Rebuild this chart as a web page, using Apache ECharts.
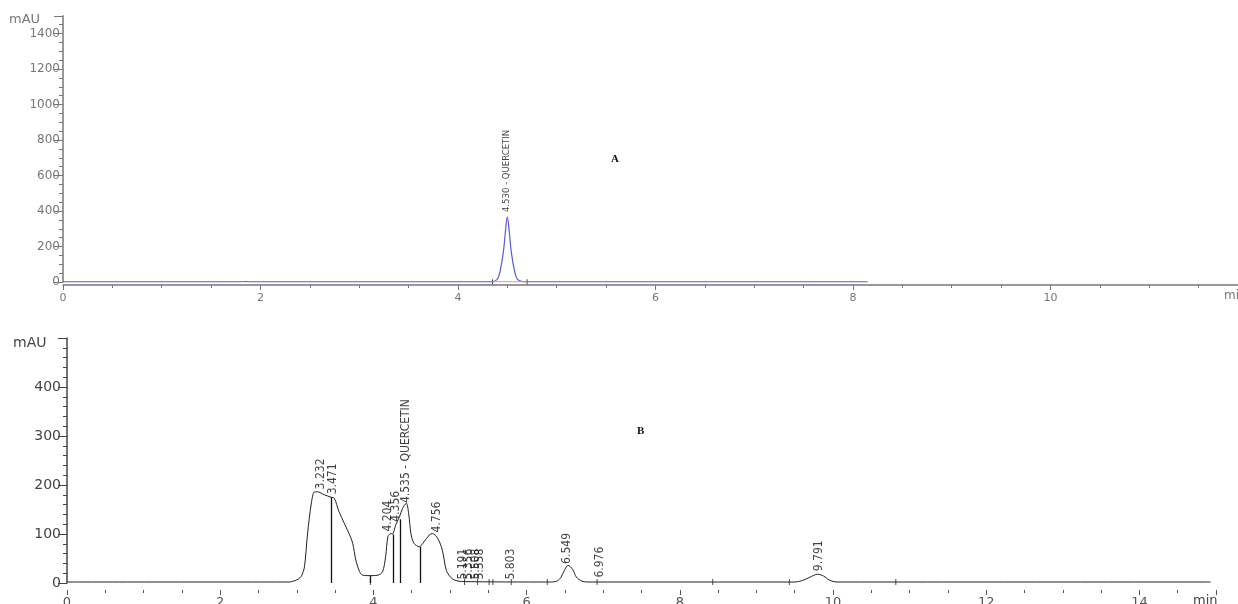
<!DOCTYPE html>
<html>
<head>
<meta charset="utf-8">
<script src="https://cdn.jsdelivr.net/npm/echarts@6/dist/echarts.min.js"></script>
<style>
html,body{margin:0;padding:0;background:#fff;}
#c{width:1238px;height:604px;}
</style>
</head>
<body>
<div id="c"></div>
<script>
// ---------- Data ----------
// Chromatogram A (standard)  [time (min), mAU]
const traceA = [[0,1],[1.8,1],[1.85,2],[1.9,1],[4.3,1],[4.35,2],[4.4,17],[4.43,70],[4.46,170],[4.48,280],[4.5,366],[4.52,280],[4.54,170],[4.57,70],[4.6,17],[4.65,3],[4.7,1],[8.15,1]];
const labelTimesA = [4.5];
const labelHeightsA = [366];
const labelTextsA = ['4.530 - QUERCETIN'];
const markerTimesA = [4.35, 4.70];

// Chromatogram B (sample)
const traceB = [[0,2],[2.9,2],[2.96,4],[3.02,8],[3.06,14],[3.1,33],[3.14,100],[3.19,163],[3.23,186],[3.27,186],[3.36,180],[3.45,175],[3.49,173],[3.55,146],[3.62,122],[3.69,98],[3.73,81],[3.77,47],[3.82,23],[3.86,16],[3.97,15],[4.06,16],[4.12,23],[4.16,54],[4.19,95],[4.23,101],[4.25,100],[4.29,118],[4.34,135],[4.38,152],[4.43,163],[4.46,142],[4.49,101],[4.53,81],[4.6,74],[4.66,84],[4.73,98],[4.77,101],[4.84,91],[4.9,67],[4.95,27],[5.0,13],[5.06,6],[5.15,3],[6.3,2],[6.4,4],[6.45,12],[6.5,28],[6.54,36],[6.6,28],[6.65,12],[6.72,4],[6.8,2],[9.5,2],[9.6,5],[9.7,12],[9.8,18],[9.88,14],[9.95,6],[10.05,2],[14.93,2]];
const dropTimesB = [3.455, 3.96, 4.26, 4.35, 4.61];
const dropHeightsB = [175, 15, 99, 130, 74];
const markerTimesB = [3.96, 5.19, 5.36, 5.51, 5.56, 5.80, 6.27, 6.92, 8.43, 9.43, 10.82];
const labelTimesB = [3.32, 3.48, 4.19, 4.30, 4.43, 4.83, 5.17, 5.25, 5.34, 5.40, 5.80, 6.53, 6.96, 9.82];
const labelHeightsB = [190, 180, 104, 124, 162, 102, 6, 6, 6, 6, 6, 38, 10, 23];
const labelTextsB = ['3.232','3.471','4.204','4.356','4.535 - QUERCETIN','4.756','5.191','5.356','5.508','5.558','5.803','6.549','6.976','9.791'];

// Axes
const xTicksA = {min:0, max:11.9, interval:2};
const yTicksA = {min:0, max:1500, interval:200};
const xTicksB = {min:0, max:15, interval:2};
const yTicksB = {min:0, max:500, interval:100};

// ---------- Chart ----------
const chart = echarts.init(document.getElementById('c'), null, {renderer:'canvas'});
const narrow = '"Liberation Sans Narrow","DejaVu Sans Condensed","Liberation Sans",sans-serif';
const tickFont = '"DejaVu Sans","Liberation Sans",sans-serif';

function zip(ts, vs, txt){ return ts.map((t,i)=> txt ? [t, vs[i], txt[i]] : [t, vs[i]]); }
const plain = v => String(v);

function xAxisCfg(idx, r, color, offset, showLine, fs, margin){
  return {type:'value', gridIndex:idx, min:r.min, max:r.max, interval:r.interval, position:'bottom', offset:offset,
    axisLine:{show:showLine, onZero:false, lineStyle:{color:color, width:1.5}},
    axisTick:{show:true, length:5, lineStyle:{color:color}},
    minorTick:{show:true, splitNumber:4, length:3, lineStyle:{color:color}},
    axisLabel:{color:color, fontSize:fs, fontFamily:tickFont, margin:margin, showMaxLabel:false, formatter:plain},
    splitLine:{show:false}};
}
function yAxisCfg(idx, r, color, minorSplit, fs, tickLen, margin){
  return {type:'value', gridIndex:idx, min:r.min, max:r.max, interval:r.interval,
    axisLine:{show:true, lineStyle:{color:color, width:1.5}},
    axisTick:{show:true, length:tickLen, lineStyle:{color:color}},
    minorTick:{show:true, splitNumber:minorSplit, length:4, lineStyle:{color:color}},
    axisLabel:{color:color, fontSize:fs, fontFamily:tickFont, margin:margin, showMaxLabel:false, formatter:plain},
    splitLine:{show:false}};
}

const labelStyle = (fs, fam) => ({show:true, position:[0,0], rotate:90, align:'left', verticalAlign:'middle',
  fontSize:fs, fontFamily:fam, color:'#111', formatter: p => p.data[2]});

const option = {
  animation:false,
  backgroundColor:'#fff',
  grid:[
    {left:63, top:15.75, width:1175, height:266.25, containLabel:false, outerBoundsMode:'none'},
    {left:67, top:338, width:1149, height:245, containLabel:false, outerBoundsMode:'none'}
  ],
  xAxis:[ xAxisCfg(0, xTicksA, '#777', 3, true, 11, 8), xAxisCfg(1, xTicksB, '#555', 7, false, 13, 6) ],
  yAxis:[ yAxisCfg(0, yTicksA, '#777', 4, 12, 9, 3), yAxisCfg(1, yTicksB, '#444', 5, 14, 9, 6) ],
  series:[
    {type:'line', xAxisIndex:0, yAxisIndex:0, data:traceA, smooth:0.4, symbol:'none',
      lineStyle:{color:'#5a5ad2', width:1.2}},
    {type:'line', xAxisIndex:0, yAxisIndex:0, data:[[markerTimesA[0],1],[markerTimesA[1],1]], symbol:'none',
      lineStyle:{color:'#e07aa8', width:1}},
    {type:'scatter', xAxisIndex:0, yAxisIndex:0, data:markerTimesA.map(t=>[t,1]), symbol:'rect', symbolSize:[1,5],
      itemStyle:{color:'#222'}, silent:true},
    {type:'scatter', xAxisIndex:0, yAxisIndex:0, data:zip(labelTimesA, labelHeightsA.map(v=>v+25), labelTextsA),
      symbolSize:1, itemStyle:{color:'transparent'}, label:labelStyle(9.5, narrow), silent:true},

    {type:'line', xAxisIndex:1, yAxisIndex:1, data:traceB, smooth:0.3, symbol:'none',
      lineStyle:{color:'#222', width:1},
      markLine:{silent:true, symbol:'none', label:{show:false},
        lineStyle:{color:'#111', width:1.3, type:'solid'},
        data: dropTimesB.map((t,i)=>[{coord:[t,0]},{coord:[t,dropHeightsB[i]]}])}},
    {type:'scatter', xAxisIndex:1, yAxisIndex:1, data:markerTimesB.map(t=>[t,2]), symbol:'rect', symbolSize:[1,6],
      itemStyle:{color:'#222'}, silent:true},
    {type:'scatter', xAxisIndex:1, yAxisIndex:1, data:zip(labelTimesB, labelHeightsB, labelTextsB),
      symbolSize:1, itemStyle:{color:'transparent'}, label:labelStyle(12, narrow), silent:true}
  ],
  graphic:[
    {type:'text', left:9, top:13, style:{text:'mAU', fontSize:13, fontFamily:tickFont, fill:'#777'}},
    {type:'text', left:13, top:336, style:{text:'mAU', fontSize:14, fontFamily:tickFont, fill:'#444'}},
    {type:'text', left:1224, top:290, style:{text:'min', fontSize:12, fontFamily:tickFont, fill:'#777'}},
    {type:'text', left:1193, top:594, style:{text:'min', fontSize:13, fontFamily:tickFont, fill:'#444'}},
    {type:'text', left:611, top:154, style:{text:'A', fontSize:11, fontWeight:'bold', fontFamily:'"Liberation Serif",serif', fill:'#111'}},
    {type:'text', left:637, top:426, style:{text:'B', fontSize:11, fontWeight:'bold', fontFamily:'"Liberation Serif",serif', fill:'#111'}}
  ]
};
chart.setOption(option);
</script>
</body>
</html>
